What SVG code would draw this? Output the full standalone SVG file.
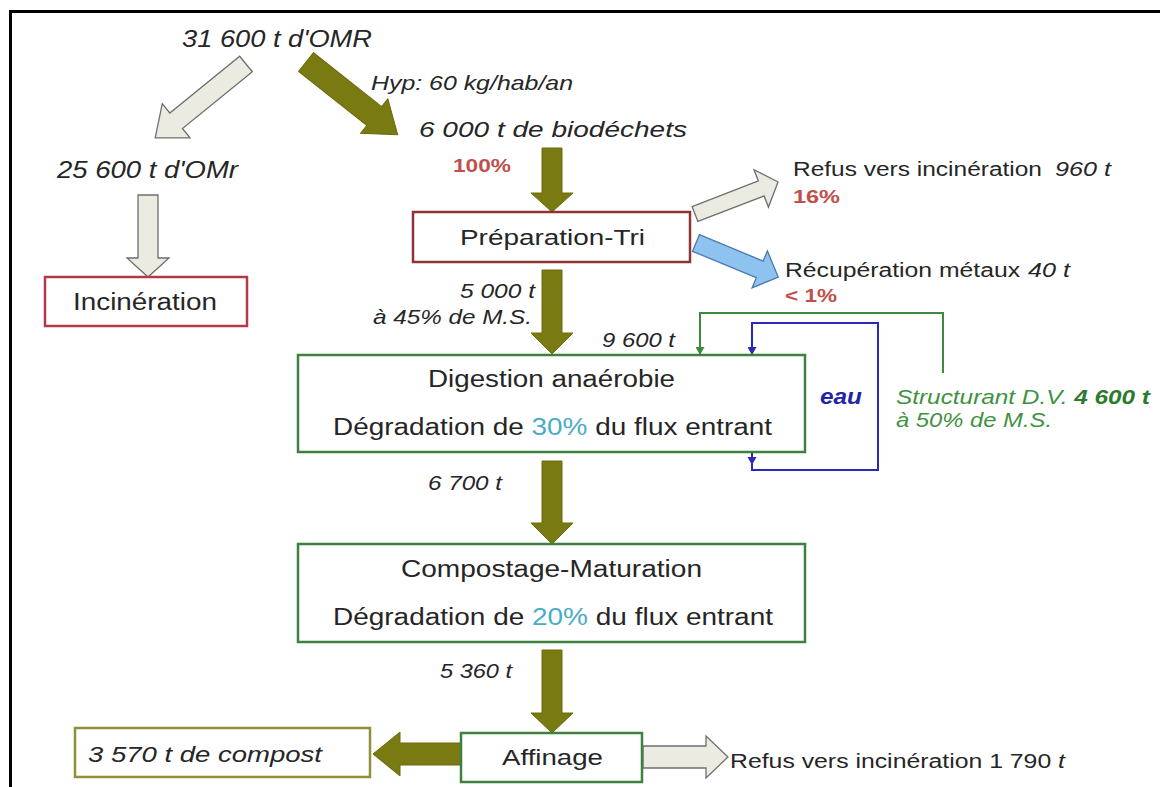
<svg xmlns="http://www.w3.org/2000/svg" width="1160" height="787" viewBox="0 0 1160 787">
  <style>
    text { font-family: "Liberation Sans", Arial, sans-serif; fill: #262626; }
    .it { font-style: italic; }
    .lbl { font-size: 21px; }
    .box-t { font-size: 23px; }
    .pct { fill: #c0504d; font-weight: bold; font-size: 18px; }
    .cy { fill: #4bacc6; }
    .grn { fill: #3f923f; }
    .box { fill: #ffffff; stroke-width: 2.5; }
    .b-green { stroke: #3f7f3f; }
    .b-red { stroke: #b23a48; }
    .b-dred { stroke: #8e3434; }
    .b-olive { stroke: #8f8f3c; }
    .olive { fill: #7a7a12; stroke: #6a6a0c; stroke-width: 1; }
    .grey { fill: #ecebe2; stroke: #6f6f6f; stroke-width: 1.3; }
    .blue { fill: #8ec3ef; stroke: #4a78b0; stroke-width: 1.3; }
  </style>
  <defs>
    <marker id="mk-green" markerUnits="userSpaceOnUse" markerWidth="9" markerHeight="9" refX="8" refY="4.5" orient="auto">
      <path d="M0,0 L8,4.5 L0,9 Z" fill="#3f8a3f"/>
    </marker>
    <marker id="mk-blue" markerUnits="userSpaceOnUse" markerWidth="9" markerHeight="9" refX="8" refY="4.5" orient="auto">
      <path d="M0,0 L8,4.5 L0,9 Z" fill="#2a2ab8"/>
    </marker>
  </defs>

  <rect width="1160" height="787" fill="#ffffff"/>

  <!-- outer frame (left and top edges only) -->
  <g id="frame" stroke="#000000" stroke-width="3">
    <line x1="10.5" y1="10" x2="10.5" y2="787"/>
    <line x1="9" y1="11.5" x2="1160" y2="11.5"/>
  </g>

  <!-- flows -->
  <g id="connectors">
    <!-- OMR split -->
    <path class="grey" transform="translate(246,64) rotate(140.9)" d="M0,-10 H90 V-22 L117,0 L90,22 V10 H0 Z"/>
    <path class="olive" transform="translate(306,62) rotate(38.4)" d="M0,-12 H87 V-22 L117,0 L87,22 V12 H0 Z"/>
    <path class="grey" d="M138,195 H158 V258 H169 L148,277 L127,258 H138 Z"/>
    <!-- main vertical chain -->
    <path class="olive" d="M542,148 H562 V193 H573 L552,212 L531,193 H542 Z"/>
    <path class="olive" d="M542,270 H562 V333 H573 L552,354 L531,333 H542 Z"/>
    <path class="olive" d="M542,461 H562 V523 H573 L552,544 L531,523 H542 Z"/>
    <path class="olive" d="M542,650 H562 V713 H573 L552,733 L531,713 H542 Z"/>
    <!-- sorting outputs -->
    <path class="grey" transform="translate(695,214) rotate(-21.1)" d="M0,-8 H71 V-20 L89,0 L71,20 V8 H0 Z"/>
    <path class="blue" transform="translate(696,243) rotate(22.5)" d="M0,-9 H69 V-20 L89,0 L69,20 V9 H0 Z"/>
    <!-- refining outputs -->
    <path class="olive" d="M461,743 H400 V732 L373,754 L400,776 V765 H461 Z"/>
    <path class="grey" d="M643,746 H706 V736 L728,757 L706,778 V768 H643 Z"/>
    <!-- structuring agent and water loop -->
    <path d="M943,373 V313 H700 V355" fill="none" stroke="#3f8a3f" stroke-width="2" marker-end="url(#mk-green)"/>
    <path d="M752,452 V470 H878 V323 H752 V355" fill="none" stroke="#2a2ab8" stroke-width="2" marker-end="url(#mk-blue)"/>
    <path d="M747.5,457 H756.5 L752,465 Z" fill="#2a2ab8"/>
  </g>

  <!-- free labels -->
  <g id="omr">
    <text class="it" x="182" y="47" font-size="24" textLength="190" lengthAdjust="spacingAndGlyphs">31 600 t d'OMR</text>
  </g>
  <g id="hyp">
    <text class="it lbl" x="371" y="90" textLength="202" lengthAdjust="spacingAndGlyphs">Hyp: 60 kg/hab/an</text>
  </g>
  <g id="biodechets">
    <text class="it" x="419" y="137" font-size="22" textLength="268" lengthAdjust="spacingAndGlyphs">6 000 t de biodéchets</text>
    <text class="pct" x="453" y="172" textLength="58" lengthAdjust="spacingAndGlyphs">100%</text>
  </g>
  <g id="omr-residuel">
    <text class="it" x="57" y="178" font-size="23" textLength="181" lengthAdjust="spacingAndGlyphs">25 600 t d'OMr</text>
  </g>

  <g id="incineration">
    <rect class="box b-red" x="45" y="277" width="202" height="49"/>
    <text class="box-t" x="73" y="310" font-size="22" textLength="144" lengthAdjust="spacingAndGlyphs">Incinération</text>
  </g>

  <g id="preparation-tri">
    <rect class="box b-dred" x="413" y="212" width="277" height="50"/>
    <text x="460" y="245" font-size="22" textLength="185" lengthAdjust="spacingAndGlyphs">Préparation-Tri</text>
  </g>

  <g id="refus-tri">
    <text x="793" y="176" font-size="20" textLength="249" lengthAdjust="spacingAndGlyphs">Refus vers incinération</text>
    <text class="it" x="1055" y="176" font-size="20" textLength="56" lengthAdjust="spacingAndGlyphs">960 t</text>
    <text class="pct" x="793" y="203" font-size="19" textLength="47" lengthAdjust="spacingAndGlyphs">16%</text>
  </g>

  <g id="metaux">
    <text x="785" y="277" font-size="20" textLength="235" lengthAdjust="spacingAndGlyphs">Récupération métaux</text>
    <text class="it" x="1028" y="277" font-size="20" textLength="42" lengthAdjust="spacingAndGlyphs">40 t</text>
    <text class="pct" x="785" y="302" textLength="52" lengthAdjust="spacingAndGlyphs">&lt; 1%</text>
  </g>

  <g id="flux-tri">
    <text class="it lbl" x="460" y="298" textLength="75" lengthAdjust="spacingAndGlyphs">5 000 t</text>
    <text class="it lbl" x="373" y="324" textLength="159" lengthAdjust="spacingAndGlyphs">à 45% de M.S.</text>
    <text class="it lbl" x="602" y="347" textLength="73" lengthAdjust="spacingAndGlyphs">9 600 t</text>
  </g>

  <g id="digestion">
    <rect class="box b-green" x="298" y="355" width="507" height="97"/>
    <text class="box-t" x="428" y="387" textLength="247" lengthAdjust="spacingAndGlyphs">Digestion anaérobie</text>
    <text class="box-t" x="333" y="435" textLength="439" lengthAdjust="spacingAndGlyphs">Dégradation de <tspan class="cy">30%</tspan> du flux entrant</text>
  </g>

  <g id="eau">
    <text x="820" y="404" font-size="22" font-weight="bold" font-style="italic" fill="#2323a8" style="fill:#2323a8" textLength="42" lengthAdjust="spacingAndGlyphs">eau</text>
  </g>

  <g id="structurant">
    <text class="it grn" x="896" y="404" font-size="21" textLength="254" lengthAdjust="spacingAndGlyphs">Structurant D.V. <tspan font-weight="bold" style="fill:#2d7a2d">4 600 t</tspan></text>
    <text class="it grn" x="896" y="427" font-size="21" textLength="156" lengthAdjust="spacingAndGlyphs">à 50% de M.S.</text>
  </g>

  <g id="flux-digestat">
    <text class="it lbl" x="428" y="490" textLength="74" lengthAdjust="spacingAndGlyphs">6 700 t</text>
  </g>

  <g id="compostage">
    <rect class="box b-green" x="298" y="544" width="507" height="98"/>
    <text class="box-t" x="401" y="577" textLength="301" lengthAdjust="spacingAndGlyphs">Compostage-Maturation</text>
    <text class="box-t" x="333" y="625" textLength="440" lengthAdjust="spacingAndGlyphs">Dégradation de <tspan class="cy">20%</tspan> du flux entrant</text>
  </g>

  <g id="flux-compost">
    <text class="it lbl" x="440" y="678" textLength="72" lengthAdjust="spacingAndGlyphs">5 360 t</text>
  </g>

  <g id="affinage">
    <rect class="box b-green" x="461" y="733" width="181" height="49"/>
    <text x="502" y="765" font-size="22" textLength="101" lengthAdjust="spacingAndGlyphs">Affinage</text>
  </g>

  <g id="compost">
    <rect class="box b-olive" x="75" y="728" width="295" height="49"/>
    <text class="it" x="88" y="762" font-size="22" textLength="234" lengthAdjust="spacingAndGlyphs">3 570 t de compost</text>
  </g>

  <g id="refus-affinage">
    <text x="730" y="768" font-size="20" textLength="335" lengthAdjust="spacingAndGlyphs">Refus vers incinération 1 790 <tspan font-style="italic">t</tspan></text>
  </g>
</svg>
